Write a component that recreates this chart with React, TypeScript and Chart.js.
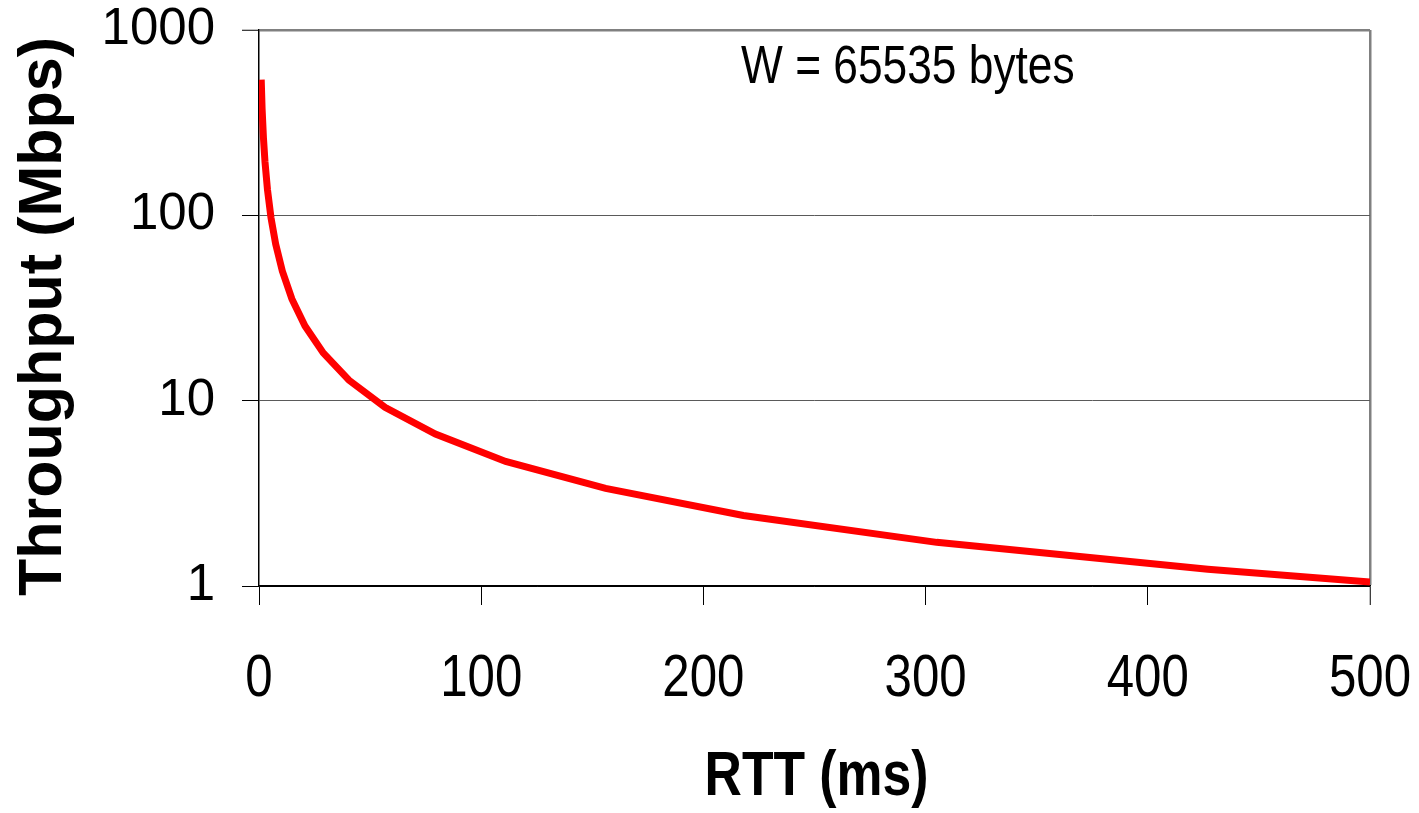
import React, { useEffect, useRef } from "react";
import { Chart, registerables } from "chart.js";

Chart.register(...registerables);

// RTT (ms)
const rttMs = [1, 1.4, 2, 2.7, 3.8, 5.4, 7.5, 10.5, 14.8, 20.7, 28.9, 40.5, 56.7, 79.4, 111, 156, 218, 305, 427, 500];
// Throughput (Mbps)
const throughputMbps = [540, 374, 262, 194, 138, 97, 70, 50, 35.4, 25.3, 18.1, 12.9, 9.2, 6.6, 4.7, 3.36, 2.4, 1.72, 1.23, 1.05];

const xTicks = [0, 100, 200, 300, 400, 500];
const yTicks = [1, 10, 100, 1000];

const xTitle = "RTT (ms)";
const yTitle = "Throughput (Mbps) ";
const annotationText = "W = 65535 bytes";
const annotationAt = [292, 620];

const SANS = '"Liberation Sans", Arial, sans-serif';
const NARROW_SCALE = 0.82;

function drawNarrow(ctx: CanvasRenderingContext2D, text: string, x: number, y: number, font: string) {
  ctx.save();
  ctx.translate(x, y);
  ctx.scale(NARROW_SCALE, 1);
  ctx.font = font;
  ctx.fillStyle = "#000";
  ctx.textAlign = "center";
  ctx.textBaseline = "middle";
  ctx.fillText(text, 0, 0);
  ctx.restore();
}

export default function App() {
  const ref = useRef<HTMLCanvasElement | null>(null);

  useEffect(() => {
    const canvas = ref.current;
    if (!canvas) return;

    const narrowTextPlugin = {
      id: "narrowText",
      afterDraw(chart: any) {
        const { ctx, scales, chartArea } = chart;
        const xs = scales.x;
        // x tick labels
        const labelY = xs.top + 19 + 44 + 30;
        xs.ticks.forEach((t: any) => {
          drawNarrow(ctx, String(t.value), xs.getPixelForValue(t.value), labelY, `60px ${SANS}`);
        });
        // x axis title
        drawNarrow(ctx, xTitle, (chartArea.left + chartArea.right) / 2 + 2, 778, `bold 63px ${SANS}`);
        // annotation
        drawNarrow(
          ctx,
          annotationText,
          xs.getPixelForValue(annotationAt[0]),
          scales.y.getPixelForValue(annotationAt[1]),
          `54px ${SANS}`
        );
      },
    };

    const chart = new Chart(canvas, {
      type: "line",
      data: {
        datasets: [
          {
            data: rttMs.map((r, i) => ({ x: r, y: throughputMbps[i] })),
            borderColor: "#ff0000",
            borderWidth: 7,
            pointRadius: 0,
            tension: 0,
            fill: false,
          },
        ],
      },
      options: {
        responsive: false,
        animation: false,
        layout: { padding: { top: 30, right: 49, left: 0, bottom: 0 } },
        plugins: { legend: { display: false }, tooltip: { enabled: false } },
        scales: {
          x: {
            type: "linear",
            min: 0,
            max: 500,
            afterFit: (s: any) => {
              s.height = 227;
              s.paddingLeft = 0;
              s.paddingRight = 0;
            },
            afterBuildTicks: (s: any) => {
              s.ticks = xTicks.map((v) => ({ value: v }));
            },
            ticks: { display: false },
            grid: {
              drawOnChartArea: true,
              color: (c: any) => (c.tick && c.tick.value === 500 ? "#808080" : "rgba(0,0,0,0)"),
              lineWidth: (c: any) => (c.tick && c.tick.value === 500 ? 2.5 : 1),
              tickColor: "#000",
              tickLength: 19,
              tickWidth: 1,
            },
            border: { display: true, color: "#000", width: 1.5 },
          },
          y: {
            type: "logarithmic",
            min: 1,
            max: 1000,
            afterFit: (s: any) => {
              s.width = 259;
              s.paddingTop = 0;
              s.paddingBottom = 0;
            },
            afterBuildTicks: (s: any) => {
              s.ticks = yTicks.map((v) => ({ value: v }));
            },
            ticks: {
              color: "#000",
              font: { family: SANS, size: 51, lineHeight: 1 },
              padding: 27,
              callback: (v: any) => String(v),
            },
            grid: {
              color: (c: any) =>
                c.tick && c.tick.value === 1000 ? "#808080" : c.tick && c.tick.value === 1 ? "#000" : "#5a5a5a",
              lineWidth: (c: any) => (c.tick && c.tick.value === 1000 ? 2.5 : 1),
              tickColor: "#000",
              tickLength: 17,
              tickWidth: 1,
            },
            border: { display: true, color: "#000", width: 1.5 },
            title: {
              display: true,
              text: yTitle,
              color: "#000",
              font: { family: SANS, size: 61, weight: "bold", lineHeight: 1 },
              padding: { top: 14, bottom: 0 },
            },
          },
        },
      },
      plugins: [narrowTextPlugin],
    });

    return () => chart.destroy();
  }, []);

  return (
    <div style={{ position: "absolute", left: 0, top: 0, width: 1419, height: 813, background: "#fff" }}>
      <canvas ref={ref} width={1419} height={813} style={{ display: "block" }} />
    </div>
  );
}
